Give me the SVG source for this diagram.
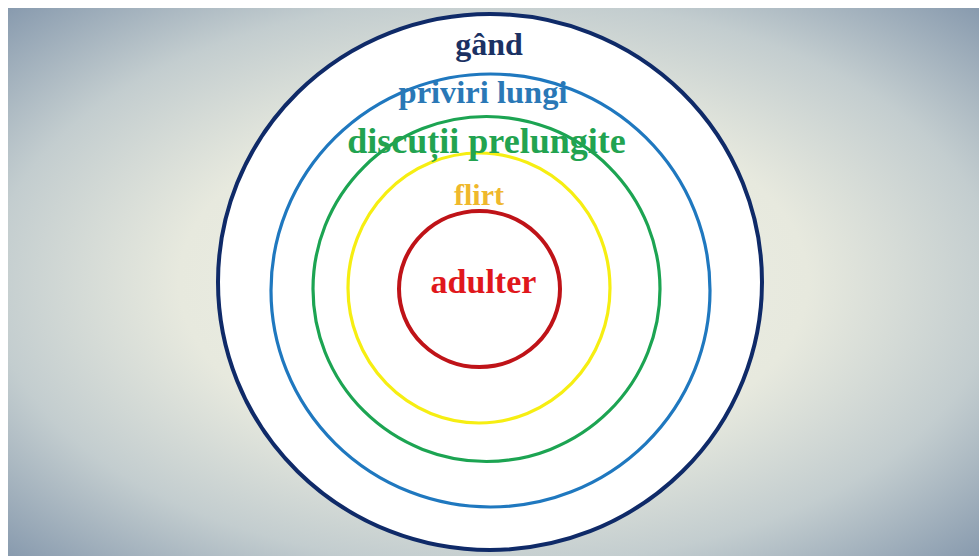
<svg xmlns="http://www.w3.org/2000/svg" width="979" height="556" viewBox="0 0 979 556">
  <defs>
    <radialGradient id="bg" cx="0.5" cy="0.5" r="0.72">
      <stop offset="0" stop-color="#eef0e7"/>
      <stop offset="0.45" stop-color="#e7e9de"/>
      <stop offset="0.72" stop-color="#c3cdcf"/>
      <stop offset="1" stop-color="#8497ac"/>
    </radialGradient>
  </defs>
  <style>
    .ring { fill: none; }
    .lbl { font-family: "Liberation Serif", "Times New Roman", serif; font-weight: bold; text-anchor: middle; }
  </style>
  <rect x="0" y="0" width="979" height="556" fill="#ffffff"/>
  <rect x="8" y="8" width="971" height="548" fill="url(#bg)"/>
  <g id="gand">
    <ellipse cx="490" cy="282" rx="272" ry="268" fill="#ffffff" stroke="#0f2a68" stroke-width="4"/>
    <text class="lbl" x="489" y="55" font-size="32" fill="#1b3163">gând</text>
  </g>
  <g id="priviri-lungi">
    <ellipse class="ring" cx="490.5" cy="290.5" rx="219.5" ry="216.5" stroke="#1f78bf" stroke-width="3.2"/>
    <text class="lbl" x="483" y="103" font-size="32.5" fill="#2a78b6">priviri lungi</text>
  </g>
  <g id="discutii-prelungite">
    <ellipse class="ring" cx="486.5" cy="289" rx="173.5" ry="172.5" stroke="#1ca452" stroke-width="3.2"/>
  </g>
  <g id="flirt">
    <ellipse class="ring" cx="479" cy="288" rx="131" ry="135" stroke="#f6ee12" stroke-width="3.2"/>
    <text class="lbl" x="479" y="205" font-size="30" fill="#efb82c">flirt</text>
  </g>
  <g id="adulter">
    <ellipse class="ring" cx="479.5" cy="289" rx="80.5" ry="78" stroke="#bf1318" stroke-width="4"/>
    <text class="lbl" x="483.5" y="293" font-size="34" fill="#e0171c">adulter</text>
  </g>
  <g id="discutii-label">
    <text class="lbl" x="486.5" y="153" font-size="36" fill="#22a350">discuții prelungite</text>
  </g>
  <g id="connectors"/>
</svg>
